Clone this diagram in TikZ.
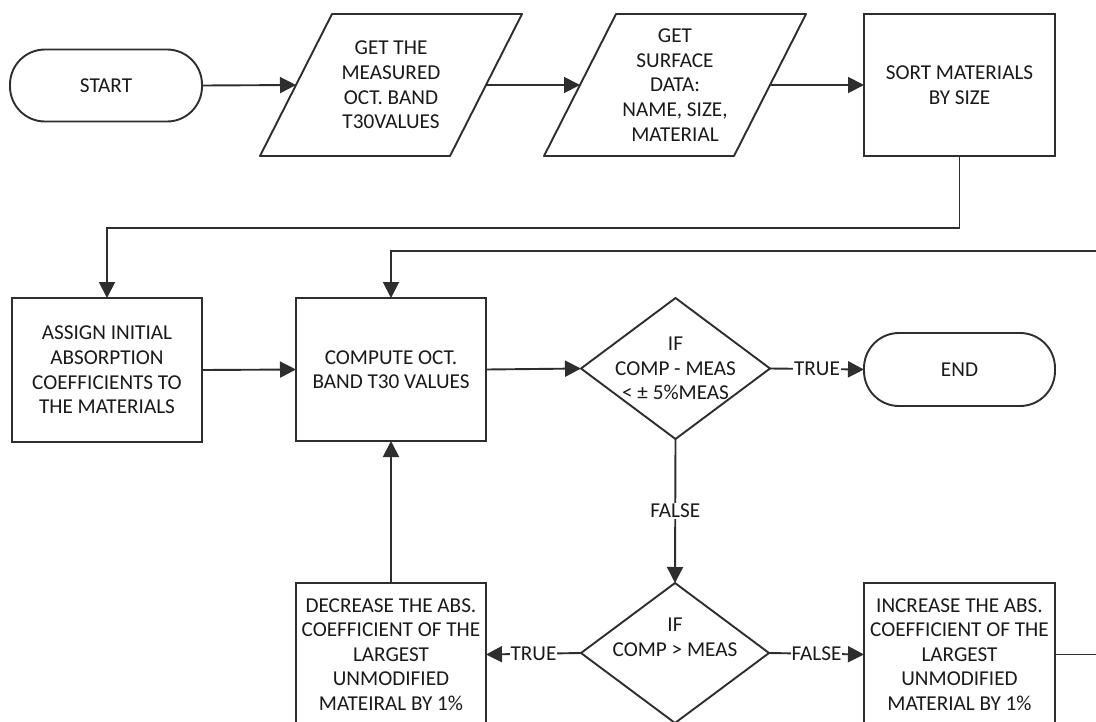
\documentclass[tikz,border=0pt]{standalone}
\usepackage{fontspec}
\setmainfont{Carlito}
\usetikzlibrary{arrows.meta}
\definecolor{linec}{HTML}{2E2E2E}
\definecolor{txtc}{HTML}{1A1A1A}
\begin{document}
\begin{tikzpicture}[x=1pt,y=-1pt,
  base/.style={font=\fontsize{21.2}{24.6}\selectfont, text=txtc, align=center, inner sep=0pt, outer sep=0pt},
  boxnode/.style={base, draw=linec, line width=1.9pt, minimum width=191pt, minimum height=143pt},
  term/.style={base, draw=linec, line width=1.9pt, rounded corners=35pt, minimum width=192pt, minimum height=72pt},
  ghost/.style={base, minimum width=190pt, minimum height=142pt},
  shapeline/.style={draw=linec, line width=1.9pt, line join=round},
  arr/.style={draw=linec, line width=1.9pt, -{Triangle[length=16pt,width=16pt]}},
  lbl/.style={base, fill=white, inner sep=1pt}]
\useasboundingbox (0,0) rectangle (1096,721);
\clip (0,0) rectangle (1096,721);
\fill[white] (0,0) rectangle (1096,721);

% nodes
\node[term] (start) at (106,85.5) {START};
\node[ghost] (p1) at (391,85) {GET THE\\MEASURED\\OCT. BAND\\T30VALUES};
\draw[shapeline] ([xshift=36pt]p1.north west) -- ([xshift=36pt]p1.north east)
  -- ([xshift=-36pt]p1.south east) -- ([xshift=-36pt]p1.south west) -- cycle;
\node[ghost] (p2) at (675,85) {GET\\SURFACE\\DATA:\\NAME, SIZE,\\MATERIAL};
\draw[shapeline] ([xshift=36pt]p2.north west) -- ([xshift=36pt]p2.north east)
  -- ([xshift=-36pt]p2.south east) -- ([xshift=-36pt]p2.south west) -- cycle;
\node[boxnode, minimum height=142pt] (sort) at (959.5,85) {SORT MATERIALS\\BY SIZE};

\node[boxnode, minimum width=190pt, minimum height=144pt] (assign) at (107,370) {ASSIGN INITIAL\\ABSORPTION\\COEFFICIENTS TO\\THE MATERIALS};
\node[boxnode, minimum width=190pt] (compute) at (391,369.5) {COMPUTE OCT.\\BAND T30 VALUES};
\node[ghost, minimum width=189pt, minimum height=141pt] (d1) at (675.5,368.5) {IF\\COMP - MEAS\\< ± 5\%MEAS};
\draw[shapeline] (d1.west) -- (d1.north) -- (d1.east) -- (d1.south) -- cycle;
\node[term, minimum width=191pt, minimum height=73pt] (end) at (959.5,369.5) {END};

\node[ghost, minimum width=188pt, minimum height=140pt] (d2) at (675,653) {IF\\COMP > MEAS\\\strut};
\draw[shapeline] (d2.west) -- (d2.north) -- (d2.east) -- (d2.south) -- cycle;
\node[boxnode, minimum width=190pt] (dec) at (391,654.5) {DECREASE THE ABS.\\COEFFICIENT OF THE\\LARGEST\\UNMODIFIED\\MATEIRAL BY 1\%};
\node[boxnode] (inc) at (959.5,654.5) {INCREASE THE ABS.\\COEFFICIENT OF THE\\LARGEST\\UNMODIFIED\\MATERIAL BY 1\%};

\coordinate (bendA) at (500,228);
\coordinate (loopR) at (1120,251);

% connectors
\draw[arr] (start.east) -- (p1.west);
\draw[arr] (p1.east) -- (p2.west);
\draw[arr] (p2.east) -- (sort.west);
\draw[arr] (sort.south) |- (bendA) -| (assign.north);
\draw[arr] (assign.east) -- (compute.west);
\draw[arr] (compute.east) -- (d1.west);
\draw[arr] (d1.east) -- node[lbl] (ltrue1) {TRUE} (end.west);
\draw[arr] (d1.south) -- node[lbl] (lfalse1) {FALSE} (d2.north);
\draw[arr] (d2.west) -- node[lbl] (ltrue2) {TRUE} (dec.east);
\draw[arr] (d2.east) -- node[lbl] (lfalse2) {FALSE} (inc.west);
\draw[arr] (dec.north) -- (compute.south);
\draw[arr] (inc.east) -| (loopR) -| (compute.north);
\end{tikzpicture}
\end{document}
